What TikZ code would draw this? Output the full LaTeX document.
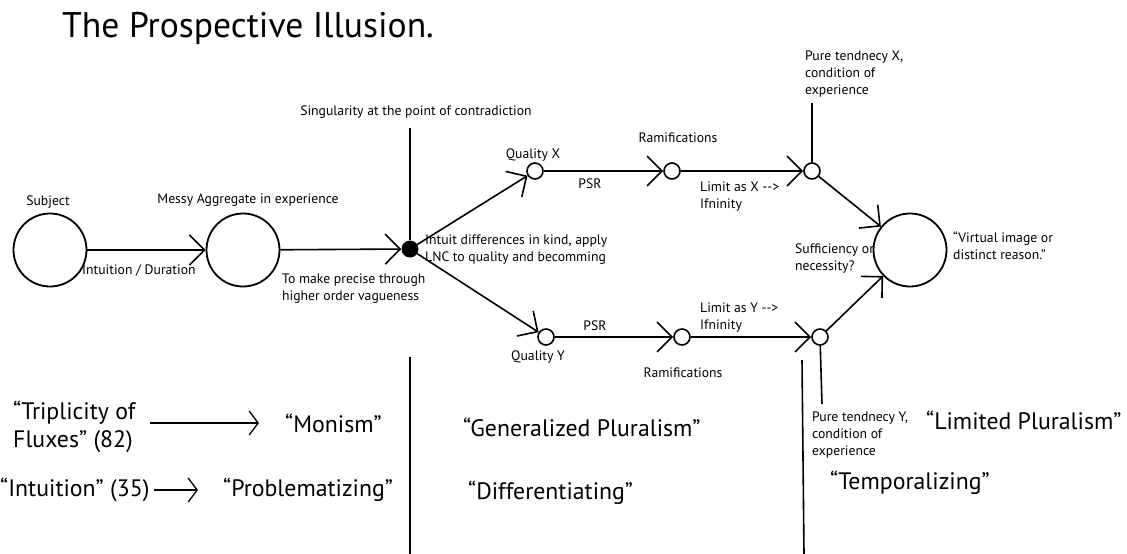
\documentclass[tikz,border=0pt]{standalone}
\usepackage{fontspec}
\setmainfont{PT Sans}
\usetikzlibrary{arrows.meta}
\begin{document}
\begin{tikzpicture}[x=1pt,y=-1pt,
  lbl/.style={inner sep=0pt, font=\fontsize{13.7}{17}\selectfont, align=left},
  big/.style={inner sep=0pt, font=\fontsize{23.8}{28}\selectfont, align=left},
  bigc/.style={circle, draw, line width=1.8pt, minimum size=73pt, inner sep=0pt},
  smallc/.style={circle, draw, line width=1.6pt, minimum size=16pt, inner sep=0pt, fill=white},
  blackdot/.style={circle, fill=black, minimum size=17pt, inner sep=0pt},
  flow/.style={line width=1.6pt, -{Straight Barb[length=15pt,width=30pt,line width=1.6pt]}},
  thinflow/.style={line width=1.3pt, -{Straight Barb[length=9pt,width=24pt,line width=1.3pt]}},
  plain/.style={line width=1.6pt},
]
\useasboundingbox (0,0) rectangle (1127,554);

% title
\node[inner sep=0pt, anchor=west, font=\fontsize{35.6}{42}\selectfont] (title) at (62,28) {The Prospective Illusion.};

% main nodes
\node[bigc] (subj) at (50,250) {};
\node[bigc] (messy) at (243,250) {};
\node[blackdot] (dot) at (410,249) {};
\node[smallc] (qx) at (535,171) {};
\node[smallc] (rx) at (672,171) {};
\node[smallc] (x3) at (812,171) {};
\node[smallc] (qy) at (546,337) {};
\node[smallc] (ry) at (682,337) {};
\node[smallc] (y3) at (820,337) {};
\node[bigc] (res) at (910,250) {};

% free ends of the plain strokes
\coordinate (sing) at (410,128);
\coordinate (tx) at (812,103);
\coordinate (ty) at (822,404);
\coordinate (sepAtop) at (410,357);
\coordinate (sepAbot) at (410,554);
\coordinate (sepBtop) at (802,360);
\coordinate (sepBbot) at (804,554);

% labels of the flow
\node[lbl] (lsubj) at (48,202) {Subject};
\node[lbl] (lmessy) at (248,200) {Messy Aggregate in experience};
\node[lbl, anchor=west] (lintu) at (82,271) {Intuition / Duration};
\node[lbl, anchor=west] (lprec) at (282,289) {To make precise through\\higher order vagueness};
\node[lbl] (lsing) at (416,112) {Singularity at the point of contradiction};
\node[lbl, anchor=west] (ldiff) at (425,250) {Intuit differences in kind, apply\\LNC to quality and becomming};
\node[lbl] (lqx) at (533,155) {Quality X};
\node[lbl] (lpsrx) at (590,184) {PSR};
\node[lbl] (lramx) at (678,138) {Ramifications};
\node[lbl, anchor=west] (llimx) at (700,197) {Limit as X -{}->\\Ifninity};
\node[lbl, anchor=west] (ltenx) at (805,74) {Pure tendnecy X,\\condition of\\experience};
\node[lbl, anchor=west] (lvirt) at (953,246) {“Virtual image or\\distinct reason.”};
\node[lbl, anchor=west] (lsuff) at (795,259) {Sufficiency or\\necessity?};
\node[lbl] (lqy) at (538,357) {Quality Y};
\node[lbl] (lpsry) at (595,326) {PSR};
\node[lbl, anchor=west] (llimy) at (700,318) {Limit as Y -{}->\\Ifninity};
\node[lbl] (lramy) at (683,373) {Ramifications};
\node[lbl, anchor=west] (lteny) at (812,435) {Pure tendnecy Y,\\condition of\\experience};

% connectors
\draw[flow] (subj) -- (messy);
\draw[flow] (messy) -- (dot);
\draw[plain] (dot) -- (sing);
\draw[flow] (dot) -- (qx);
\draw[flow] (dot) -- (qy);
\draw[flow] (qx) -- (rx);
\draw[flow] (rx) -- (x3);
\draw[flow] (qy) -- (ry);
\draw[flow] (ry) -- (y3);
\draw[plain] (x3) -- (tx);
\draw[plain] (y3) -- (ty);
\draw[flow] (x3) -- (res);
\draw[flow] (y3) -- (res);

% separators between the phases
\draw[plain] (sepAtop) -- (sepAbot);
\draw[plain] (sepBtop) -- (sepBbot);

% lower legend
\node[big, anchor=west] (trip) at (13,427) {“Triplicity of\\Fluxes” (82)};
\node[big, anchor=west] (monism) at (285,423) {“Monism”};
\node[big, anchor=west] (intu) at (0,490) {“Intuition” (35)};
\node[big, anchor=west] (probl) at (223,490) {“Problematizing”};
\node[big, anchor=west] (gen) at (463,427) {“Generalized Pluralism”};
\node[big, anchor=west] (diff) at (468,493) {“Differentiating”};
\node[big, anchor=west] (lim) at (926,420) {“Limited Pluralism”};
\node[big, anchor=west] (temp) at (830,483) {“Temporalizing”};
\draw[thinflow, shorten <=14pt] (trip.east |- monism.west) -- ([xshift=-26pt]monism.west);
\draw[thinflow] ([xshift=4pt]intu.east) -- ([xshift=-25pt]probl.west);
\end{tikzpicture}
\end{document}
